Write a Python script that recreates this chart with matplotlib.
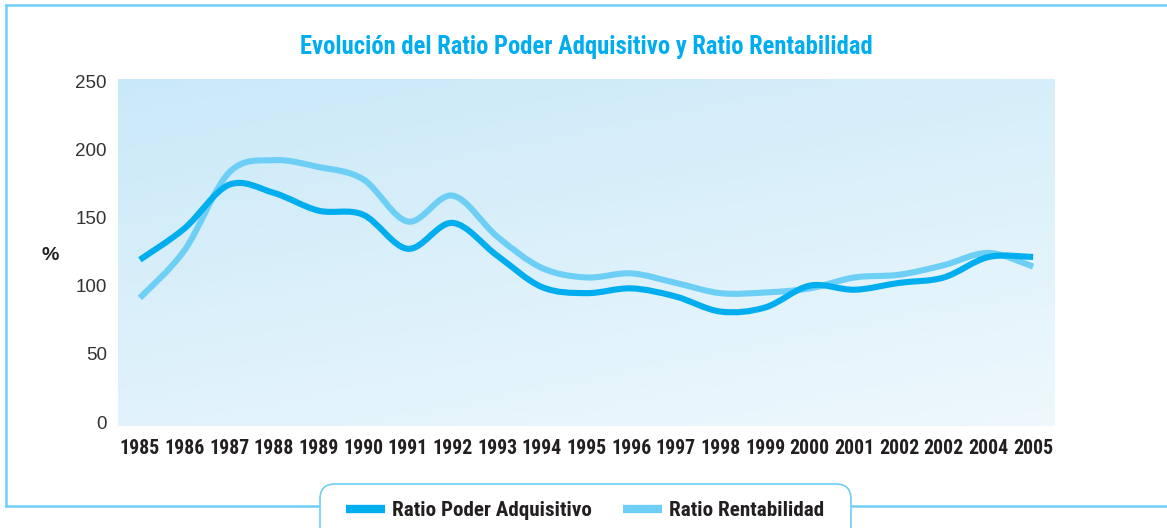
import numpy as np
import matplotlib
matplotlib.use('Agg')
import matplotlib.pyplot as plt
import matplotlib.font_manager as fm
from matplotlib.path import Path
from matplotlib.patches import PathPatch, FancyBboxPatch
from matplotlib.lines import Line2D
from matplotlib.colors import LinearSegmentedColormap

# Data
years = ['1985', '1986', '1987', '1988', '1989', '1990', '1991', '1992', '1993', '1994', '1995',
         '1996', '1997', '1998', '1999', '2000', '2001', '2002', '2002', '2004', '2005']
poder_adquisitivo = [119, 142, 174, 168, 155, 152, 127, 146, 122, 99, 94.5,
                     98, 92, 81, 84, 100, 97, 102, 106, 121, 121]
rentabilidad = [91, 126, 183, 192, 187, 178, 147, 166, 136, 113, 106,
                109, 102, 94.5, 95, 98, 106, 108, 115, 124, 114]

DARK = '#00AEEF'
LIGHT = '#6DCFF6'
TEXT = '#231F20'

# look for a narrow bold face, the reference uses a condensed sans
narrow_file = None
for key in ['LiberationSansNarrow-Bold', 'RobotoCondensed-Bold', 'DejaVuSansCondensed-Bold',
            'OpenSans_Condensed-Bold', 'OpenSansCondensed-Bold', 'Condensed-Bold', 'Narrow-Bold']:
    hits = sorted(f.fname for f in fm.fontManager.ttflist if key in f.fname.replace(' ', ''))
    if hits:
        narrow_file = hits[0]
        break
if narrow_file:
    def nfont(size):
        return fm.FontProperties(fname=narrow_file, size=size)
    scale = 1.0
else:
    def nfont(size):
        return fm.FontProperties(family='DejaVu Sans', weight='bold', size=size, stretch='condensed')
    scale = 0.72


def smooth_path(xs, ys):
    # Catmull-Rom through the data points, written as cubic Bezier segments
    p = np.column_stack([xs, ys]).astype(float)
    p = np.vstack([p[0], p, p[-1]])
    verts = [p[1]]
    codes = [Path.MOVETO]
    for i in range(1, len(p) - 2):
        c1 = p[i] + (p[i + 1] - p[i - 1]) / 6
        c2 = p[i + 1] - (p[i + 2] - p[i]) / 6
        verts += [c1, c2, p[i + 1]]
        codes += [Path.CURVE4] * 3
    return Path(verts, codes)


fig = plt.figure(figsize=(11.67, 5.28), dpi=100)
ax = fig.add_axes([118 / 1167, 1 - 426 / 528, 937 / 1167, 347 / 528])

# gradient background
cmap = LinearSegmentedColormap.from_list('bg', ['#CAE9F8', '#EEF8FD'])
gx, gy = np.meshgrid(np.linspace(0, 1, 200), np.linspace(0, 1, 100))
grad = 0.35 * gx + 0.65 * gy
ax.imshow(grad, extent=[0, 1, 0, 1], transform=ax.transAxes, cmap=cmap,
          aspect='auto', origin='upper', zorder=0)

x = np.arange(len(years))
ax.add_patch(PathPatch(smooth_path(x, rentabilidad), fill=False, edgecolor=LIGHT,
                       lw=4.4, capstyle='butt', zorder=2))
ax.add_patch(PathPatch(smooth_path(x, poder_adquisitivo), fill=False, edgecolor=DARK,
                       lw=4.4, capstyle='butt', zorder=3))

ax.set_xlim(-0.49, len(years) - 0.51)
ax.set_ylim(-2.9, 251.5)
ax.set_xticks(x)
ax.set_xticklabels(years, color=TEXT)
for t in ax.get_xticklabels():
    t.set_fontproperties(nfont(14.3 * scale))
ax.set_yticks([0, 50, 100, 150, 200, 250])
ax.set_yticklabels(['0', '50', '100', '150', '200', '250'], fontfamily='Liberation Sans',
                   fontsize=13.5, color='#333333')
ax.tick_params(axis='x', length=0, pad=9)
ax.tick_params(axis='y', length=0, pad=8)
for s in ax.spines.values():
    s.set_visible(False)

ax.set_ylabel('%', rotation=0, fontfamily='Liberation Sans', fontweight='bold',
              fontsize=14, color=TEXT, ha='center', va='center')
ax.yaxis.set_label_coords(-0.0726, 0.49)

fig.text(586 / 1167, 1 - 47 / 528, 'Evolución del Ratio Poder Adquisitivo y Ratio Rentabilidad',
         ha='center', va='center', color=DARK, fontproperties=nfont(17.7 * (scale + 1) / 2))

# outer frame (open on the right)
fw = 1 / 1167
fh = 1 / 528
for xs, ys in [([6 * fw, 6 * fw], [1 - 5 * fh, 1 - 506 * fh]),
               ([6 * fw, 1], [1 - 5 * fh, 1 - 5 * fh]),
               ([6 * fw, 1], [1 - 506 * fh, 1 - 506 * fh])]:
    fig.add_artist(Line2D(xs, ys, transform=fig.transFigure, color=LIGHT, lw=1.8, zorder=1))

# rounded legend box, cut by the bottom edge
box = FancyBboxPatch((320, 528 - 560), 531, 76, boxstyle='round,pad=0,rounding_size=15',
                     transform=None, facecolor='white', edgecolor=LIGHT, lw=1.2, zorder=4)
fig.add_artist(box)

handles = [Line2D([], [], color=DARK, lw=6, solid_capstyle='butt'),
           Line2D([], [], color=LIGHT, lw=6, solid_capstyle='butt')]
leg = fig.legend(handles, ['Ratio Poder Adquisitivo', 'Ratio Rentabilidad'],
                 loc='center', bbox_to_anchor=(585 / 1167, 1 - 511 / 528), ncol=2,
                 prop=nfont(15.2 * (scale + 1) / 2), frameon=False,
                 handlelength=1.85, handletextpad=0.33, columnspacing=1.47,
                 borderpad=0, borderaxespad=0)
for t in leg.get_texts():
    t.set_color(TEXT)
leg.set_zorder(5)

fig.savefig('out.png', dpi=100)
